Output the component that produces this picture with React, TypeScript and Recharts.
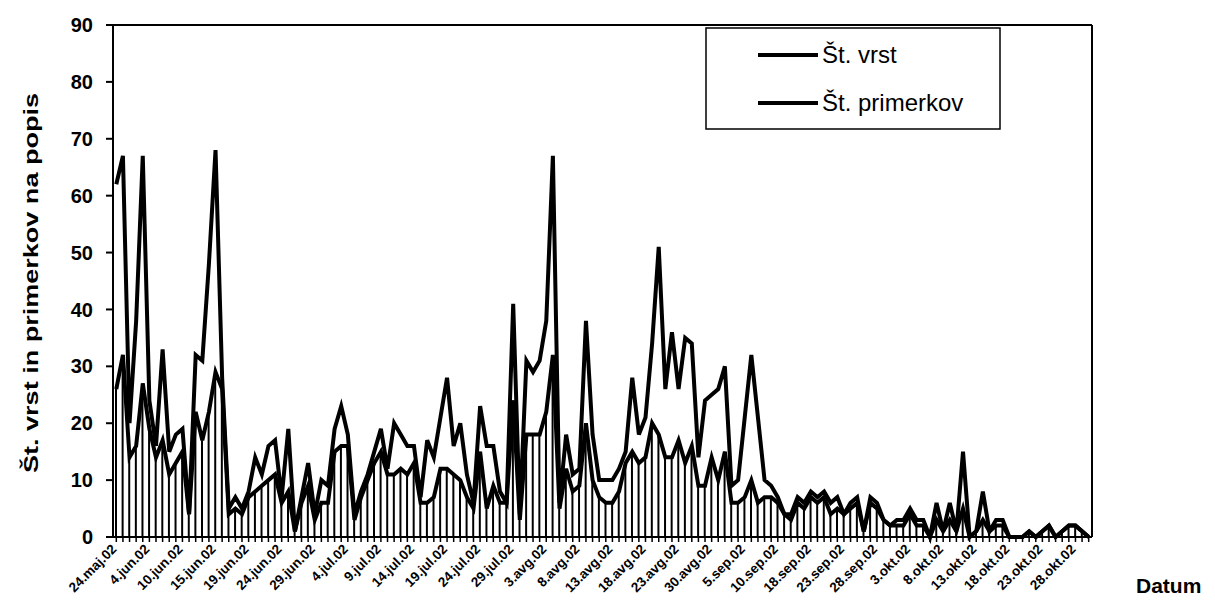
import React from 'react';
import { ComposedChart, Bar, Line, XAxis, YAxis, CartesianGrid } from 'recharts';

// tick labels, one for every 5th sampling
const dateLabels = [
  '24.maj.02', '4.jun.02', '10.jun.02', '15.jun.02', '19.jun.02', '24.jun.02', '29.jun.02',
  '4.jul.02', '9.jul.02', '14.jul.02', '19.jul.02', '24.jul.02', '29.jul.02', '3.avg.02',
  '8.avg.02', '13.avg.02', '18.avg.02', '23.avg.02', '30.avg.02', '5.sep.02', '10.sep.02',
  '18.sep.02', '23.sep.02', '28.sep.02', '3.okt.02', '8.okt.02', '13.okt.02', '18.okt.02',
  '23.okt.02', '28.okt.02',
];

const stPrimerkov = [
  62, 67, 20, 38, 67, 24, 16, 33, 15, 18,
  19, 4, 32, 31, 48, 68, 28, 5, 7, 5,
  8, 14, 11, 16, 17, 7, 19, 1, 7, 13,
  4, 10, 9, 19, 23, 18, 4, 8, 11, 15,
  19, 12, 20, 18, 16, 16, 7, 17, 14, 21,
  28, 16, 20, 11, 6, 23, 16, 16, 8, 6,
  41, 4, 31, 29, 31, 38, 67, 6, 18, 11,
  12, 38, 18, 10, 10, 10, 12, 15, 28, 18,
  21, 34, 51, 26, 36, 26, 35, 34, 14, 24,
  25, 26, 30, 9, 10, 21, 32, 21, 10, 9,
  7, 4, 4, 7, 6, 8, 7, 8, 6, 7,
  4, 6, 7, 1, 7, 6, 3, 2, 3, 3,
  5, 3, 3, 0, 6, 1, 6, 1, 15, 0,
  1, 8, 1, 3, 3, 0, 0, 0, 1, 0,
  1, 2, 0, 1, 2, 2, 1, 0,
];

const stVrst = [
  26, 32, 14, 16, 27, 19, 14, 17, 11, 13,
  15, 4, 22, 17, 22, 29, 26, 4, 5, 4,
  7, 8, 9, 10, 11, 6, 8, 1, 6, 9,
  3, 6, 6, 15, 16, 16, 3, 7, 10, 13,
  15, 11, 11, 12, 11, 13, 6, 6, 7, 12,
  12, 11, 10, 7, 5, 15, 5, 9, 6, 6,
  24, 3, 18, 18, 18, 22, 32, 5, 12, 8,
  9, 20, 10, 7, 6, 6, 8, 13, 15, 13,
  14, 20, 18, 14, 14, 17, 13, 16, 9, 9,
  14, 10, 15, 6, 6, 7, 10, 6, 7, 7,
  6, 4, 3, 6, 5, 7, 6, 7, 4, 5,
  4, 5, 6, 1, 6, 5, 3, 2, 2, 2,
  4, 2, 2, 0, 3, 1, 3, 1, 5, 0,
  1, 3, 1, 2, 2, 0, 0, 0, 1, 0,
  1, 2, 0, 1, 2, 2, 1, 0,
];

const yTicks = [0, 10, 20, 30, 40, 50, 60, 70, 80, 90];

const data = stVrst.map((v, i) => ({ idx: i, vrst: v, primerkov: stPrimerkov[i] }));

const FONT = 'Arial, "Liberation Sans", sans-serif';

const DateTick = ({ x, y, payload }: any) => {
  const i = Number(payload.value);
  if (i % 5 !== 0) return null;
  return (
    <g transform={`translate(${x + 1},${y + 6})`}>
      <text transform="rotate(-45)" textAnchor="end" fontSize={13.5} fontWeight="bold" fontFamily={FONT} fill="#000">
        {dateLabels[i / 5]}
      </text>
    </g>
  );
};

const axisTick = { fill: '#000', fontSize: 20, fontWeight: 'bold', fontFamily: FONT };

export default function App() {
  return (
    <div style={{ position: 'absolute', left: 0, top: 0, width: 1215, height: 612, background: '#fff' }}>
      <ComposedChart width={1215} height={612} data={data} margin={{ top: 25, right: 63, bottom: 0, left: 53 }}>
        <CartesianGrid vertical={false} stroke="#000" strokeWidth={2} />
        <XAxis
          dataKey="idx"
          interval={0}
          height={75}
          tickSize={5}
          tickLine={{ stroke: '#000', strokeWidth: 1.5 }}
          axisLine={{ stroke: '#000', strokeWidth: 2 }}
          tick={<DateTick />}
        />
        <YAxis
          yAxisId="left"
          domain={[0, 90]}
          ticks={yTicks}
          width={60}
          tickSize={7}
          tickMargin={13}
          tickLine={{ stroke: '#000', strokeWidth: 2 }}
          axisLine={{ stroke: '#000', strokeWidth: 2 }}
          tick={axisTick}
        />
        <YAxis
          yAxisId="right"
          orientation="right"
          domain={[0, 90]}
          ticks={yTicks}
          width={60}
          tickSize={7}
          tickMargin={15}
          tickLine={{ stroke: '#000', strokeWidth: 2 }}
          axisLine={{ stroke: '#000', strokeWidth: 2 }}
          tick={{ ...axisTick, textAnchor: 'start' }}
        />
        <Bar yAxisId="left" dataKey="vrst" barSize={2} fill="#000" isAnimationActive={false} />
        <Line yAxisId="left" type="linear" dataKey="primerkov" stroke="#000" strokeWidth={4} dot={false} isAnimationActive={false} />
        <Line yAxisId="left" type="linear" dataKey="vrst" stroke="#000" strokeWidth={4} dot={false} isAnimationActive={false} />
      </ComposedChart>

      {/* titles and legend */}
      <svg width={1215} height={612} style={{ position: 'absolute', left: 0, top: 0, pointerEvents: 'none' }}>
        <text
          transform="translate(38,283) rotate(-90)"
          textAnchor="middle"
          fontSize={21}
          fontWeight="bold"
          fontFamily={FONT}
          textLength={380}
          lengthAdjust="spacingAndGlyphs"
        >
          Št. vrst in primerkov na popis
        </text>
        <text x={1136} y={593} fontSize={21} fontWeight="bold" fontFamily={FONT}>Datum</text>

        <rect x={706} y={28} width={294} height={101} fill="#fff" stroke="#000" strokeWidth={1.5} />
        <line x1={758} y1={55} x2={818} y2={55} stroke="#000" strokeWidth={4} />
        <text x={822} y={63} fontSize={24} fontFamily={FONT}>Št. vrst</text>
        <line x1={758} y1={103} x2={818} y2={103} stroke="#000" strokeWidth={4} />
        <text x={822} y={111} fontSize={24} fontFamily={FONT}>Št. primerkov</text>
      </svg>
    </div>
  );
}
